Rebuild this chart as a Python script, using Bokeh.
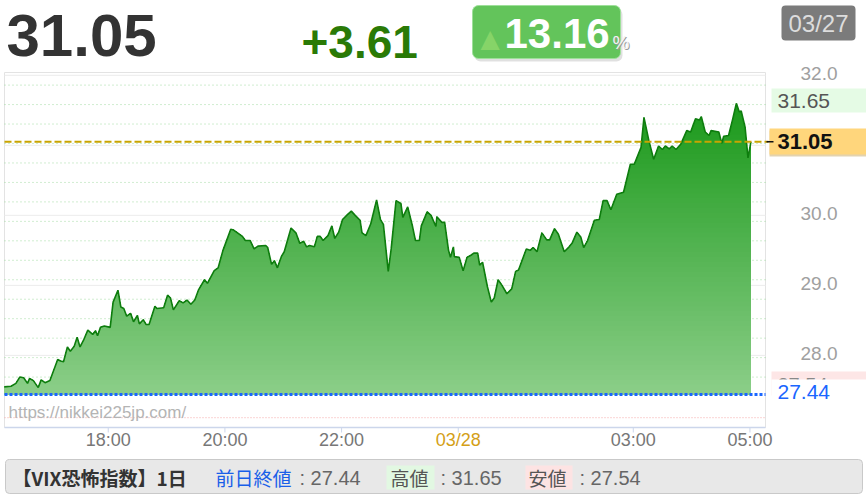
import numpy as np
from bokeh.plotting import figure
from bokeh.models import Range1d
from bokeh.core.properties import value
from bokeh.embed import file_html
from bokeh.resources import INLINE

# ---------------- data (minutes since 16:00 on 03/27, VIX value) ----------------
minutes = [13, 20, 25, 29, 33, 37, 39, 43, 48, 51, 55, 60, 64, 68, 71, 74, 78, 81, 85, 88,
           91, 95, 99, 104, 107, 109, 112, 116, 122, 125, 130, 133, 136, 139, 143, 146, 150, 152, 156, 159,
           162, 168, 170, 177, 181, 184, 187, 193, 197, 201, 205, 209, 213, 219, 222, 229, 233, 238, 246, 249,
           258, 261, 266, 270, 274, 282, 284, 288, 291, 294, 298, 301, 308, 313, 317, 321, 324, 327, 332, 335,
           338, 341, 346, 350, 353, 357, 361, 366, 370, 374, 379, 381, 385, 390, 396, 400, 403, 408, 411, 416,
           421, 423, 428, 433, 436, 440, 442, 448, 452, 457, 458, 463, 466, 470, 472, 475, 476, 481, 485, 489,
           493, 496, 500, 502, 505, 510, 514, 517, 521, 525, 530, 535, 539, 542, 550, 554, 557, 561, 566, 571,
           574, 579, 583, 589, 594, 597, 602, 606, 609, 613, 620, 625, 629, 633, 637, 643, 650, 657, 661, 668,
           671, 676, 681, 686, 690, 693, 697, 700, 704, 709, 715, 719, 724, 728, 730, 734, 738, 740, 748, 751,
           753, 758, 762, 766, 769, 771, 775, 778, 781]
vix = [27.55, 27.56, 27.60, 27.69, 27.68, 27.60, 27.67, 27.64, 27.54, 27.65, 27.61, 27.64, 27.79, 27.94, 27.92, 27.91, 28.12, 28.06, 28.13, 28.26,
       28.12, 28.23, 28.36, 28.30, 28.35, 28.28, 28.40, 28.42, 28.40, 28.76, 28.93, 28.69, 28.67, 28.56, 28.60, 28.48, 28.57, 28.45, 28.51, 28.44,
       28.44, 28.70, 28.67, 28.68, 28.86, 28.82, 28.65, 28.78, 28.75, 28.79, 28.73, 28.79, 28.94, 29.08, 29.03, 29.21, 29.25, 29.50, 29.80, 29.79,
       29.70, 29.64, 29.64, 29.52, 29.56, 29.57, 29.54, 29.30, 29.35, 29.25, 29.41, 29.48, 29.82, 29.75, 29.60, 29.63, 29.55, 29.57, 29.55, 29.70,
       29.70, 29.64, 29.71, 29.85, 29.67, 29.76, 29.94, 30.01, 30.06, 30.00, 29.93, 29.75, 29.71, 29.88, 30.22, 29.94, 29.87, 29.20, 29.52, 30.21,
       30.17, 29.97, 30.12, 29.84, 29.64, 29.64, 29.85, 30.05, 30.00, 29.84, 29.98, 29.90, 29.90, 29.50, 29.40, 29.55, 29.41, 29.40, 29.21, 29.40,
       29.43, 29.46, 29.46, 29.29, 29.33, 28.98, 28.76, 28.82, 29.08, 29.00, 28.88, 28.95, 29.20, 29.22, 29.52, 29.50, 29.54, 29.48, 29.75, 29.65,
       29.65, 29.81, 29.73, 29.48, 29.55, 29.60, 29.76, 29.69, 29.54, 29.64, 29.93, 29.94, 30.21, 30.21, 30.08, 30.30, 30.33, 30.73, 30.73, 30.97,
       31.40, 31.07, 30.80, 30.99, 30.94, 30.99, 30.95, 30.99, 30.94, 31.02, 31.21, 31.19, 31.38, 31.36, 31.41, 31.19, 31.14, 31.21, 31.19, 31.03,
       31.13, 31.14, 31.36, 31.60, 31.48, 31.49, 31.26, 30.82, 31.05]

last_value = 31.05
prev_close = 27.44
day_high = 31.65
day_low = 27.54
change = "+3.61"
change_pct = "13.16"
date_label = "03/27"

tick_minutes = [120, 240, 360, 480, 660, 780]
tick_labels = ["18:00", "20:00", "22:00", "03/28", "03:00", "05:00"]
tick_colors = ["#777777", "#777777", "#777777", "#d4a017", "#777777", "#777777"]
y_ticks = [28, 29, 30, 31, 32]
y_tick_labels = ["28.0", "29.0", "30.0", "31.0", "32.0"]
minor_levels = list(np.linspace(31.86, 27.69, 16))
low_ref_line = 27.11

# ---------------- layout (pixel geometry of the chart area) ----------------
W, H = 866, 496
PX_L, PX_R, PX_T, PX_B = 4, 765, 72, 427          # plot area in pixels
X0, X1 = 13.3, 796.0                               # minutes at plot area edges
Y0, Y1 = 26.97, 32.04                              # values at plot area edges
mpp = (X1 - X0) / (PX_R - PX_L)
vpp = (Y1 - Y0) / (PX_B - PX_T)


def XP(px):
    return X0 + (px - PX_L) * mpp


def YP(py):
    return Y0 + (PX_B - py) * vpp


p = figure(width=W, height=H, output_backend="svg", toolbar_location=None,
           x_range=Range1d(XP(0), XP(W)), y_range=Range1d(YP(H), YP(0)),
           min_border=0, x_axis_location=None, y_axis_location=None)
p.grid.visible = False
p.background_fill_color = "white"
p.border_fill_color = "white"
p.outline_line_color = None

FONT = "Liberation Sans"
CJK = "Noto Sans CJK JP"


def box(x1, y1, x2, y2, color, line=None, radius=0, alpha=1.0):
    p.quad(left=[XP(x1)], right=[XP(x2)], top=[YP(y1)], bottom=[YP(y2)],
           fill_color=color, fill_alpha=alpha, line_color=line, border_radius=radius)


def text(x, y, t, size, color, font=FONT, style="normal", align="left", baseline="middle"):
    p.text(x=[XP(x)], y=[YP(y)], text=[t], text_font=value(font), text_font_size=size,
           text_color=color, text_font_style=style, text_align=align, text_baseline=baseline)


# ---- plot area frame & grid ----
box(PX_L, PX_T, PX_R, PX_B, "white", line="#e3e3e3")
p.segment(x0=[X0] * len(y_ticks), x1=[X1] * len(y_ticks), y0=y_ticks, y1=y_ticks,
          line_color="#ececec", line_width=1)
p.segment(x0=[X0] * len(minor_levels), x1=[X1] * len(minor_levels), y0=minor_levels, y1=minor_levels,
          line_color="#a2dba2", line_width=1, line_dash="1 3")
p.segment(x0=[X0], x1=[X1], y0=[low_ref_line], y1=[low_ref_line],
          line_color="#f5a8a8", line_width=1, line_dash="1 2")

# ---- gradient area (stacked bands) ----
xs = np.array(minutes, dtype=float)
vs = np.array(vix, dtype=float)
n_bands = 60
levels = np.linspace(prev_close, day_high, n_bands + 1)
c_top = np.array([0x1a, 0x99, 0x1a])
c_bot = np.array([0x8d, 0xcf, 0x8a])
for k in range(n_bands, 0, -1):
    t = (levels[k] - prev_close) / (day_high - prev_close)
    c = (c_bot + (c_top - c_bot) * t).astype(int)
    col = "#%02x%02x%02x" % tuple(c)
    top = vs if k == n_bands else np.minimum(vs, levels[k])
    p.varea(x=xs, y1=prev_close, y2=top, fill_color=col, fill_alpha=1.0)

p.line(xs, vs, line_color="#0e7d0e", line_width=1.6)

# ---- reference lines ----
p.segment(x0=[X0], x1=[XP(768)], y0=[last_value], y1=[last_value],
          line_color="#c9a400", line_width=2, line_dash="7 3")
p.segment(x0=[X0], x1=[X1], y0=[prev_close], y1=[prev_close],
          line_color="#1a66ff", line_width=3, line_dash="3 2")

# ---- x axis ----
p.segment(x0=[X0], x1=[X1], y0=[Y0], y1=[Y0], line_color="#ccd6eb", line_width=1.5)
p.segment(x0=tick_minutes, x1=tick_minutes, y0=[Y0] * 6, y1=[YP(PX_B + 5)] * 6,
          line_color="#ccd6eb", line_width=1)
p.text(x=tick_minutes, y=[YP(439)] * 6, text=tick_labels, text_color=tick_colors,
       text_font=value(FONT), text_font_size="18px", text_align="center", text_baseline="middle")

# ---- y axis labels (right) ----
p.text(x=[XP(800)] * len(y_ticks), y=y_ticks, text=y_tick_labels, text_color="#a0a0a0",
       text_font=value(FONT), text_font_size="19px", text_align="left", text_baseline="middle",
       y_offset=-2)

# watermark
text(8, 412, "https://nikkei225jp.com/", "17px", "#b4b4b4")

# ---- header ----
text(6, 35, "%.2f" % last_value, "60px", "#333333", style="bold")
text(301, 41, change, "46px", "#2a7a06", style="bold")
box(474, 8, 622, 61, "#000000", radius=6, alpha=0.12)
box(472, 5, 620, 58, "#63c45b", line="#9ee09a", radius=6)
text(480, 38, "\u25b2", "25px", "#86d468", font="DejaVu Sans")
text(504, 33, change_pct, "42px", "#ffffff", style="bold")
text(613, 43, "%", "19px", "#9a9a9a")
text(612, 42, "%", "19px", "#f4f4f4")
box(781, 5, 855, 40, "#7b7b7b", radius=4)
text(818, 23, date_label, "24px", "#dddddd", align="center")

# ---- right side value boxes ----
box(771, 88, 870, 112, "#e5fbe5")
text(777, 100, "%.2f" % day_high, "21px", "#555555")
box(769, 130, 870, 156, "#c7a860", alpha=0.5)
box(769, 128, 870, 154, "#ffd67c")
p.segment(x0=[XP(766)], x1=[XP(773)], y0=[last_value], y1=[last_value], line_color="#111111", line_width=1.5)
text(777, 141, "%.2f" % last_value, "22px", "#111111", style="bold")
box(771, 371, 870, 395, "#fde6e6")
text(777, 384, "%.2f" % day_low, "20px", "#888888")
box(771, 379, 870, 404, "#ffffff")
text(777, 391, "%.2f" % prev_close, "21px", "#1a66ff")

# ---- footer ----
box(5, 459, 862, 493, "#e8e8e8", line="#c9c9c9", radius=4)
text(12, 477, "【VIX恐怖指数】1日", "19px", "#333333", font=CJK, style="bold")
text(215, 477, "前日終値", "19px", "#1a5fe8", font=CJK)
text(299, 477, ": 27.44", "20px", "#666666")
box(386, 465, 434, 489, "#e2f8e2")
text(390, 477, "高値", "19px", "#555555", font=CJK)
text(440, 477, ": 31.65", "20px", "#666666")
box(525, 465, 572, 489, "#fde3e3")
text(528, 477, "安値", "19px", "#555555", font=CJK)
text(579, 477, ": 27.54", "20px", "#666666")

open("out.html", "w").write(file_html(p, INLINE))
